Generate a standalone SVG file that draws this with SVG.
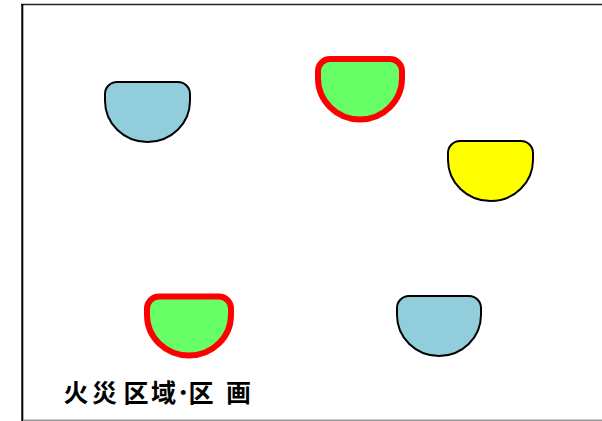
<svg xmlns="http://www.w3.org/2000/svg" width="602" height="421" viewBox="0 0 602 421">
<defs>
<style>
.plain{stroke:#000;stroke-width:2}
.hot{stroke:#ff0000;stroke-width:6}
.blue{fill:#92cddc}
.green{fill:#66ff66}
.yellow{fill:#ffff00}
.lbl{font-family:"Noto Sans CJK JP","Noto Sans CJK SC",sans-serif;font-size:25px;font-weight:bold;fill:#000}
</style>
</defs>
<rect width="602" height="421" fill="#fff"/>
<g id="frame">
<line x1="21" y1="4.5" x2="602" y2="4.5" stroke="#222" stroke-width="1.6"/>
<line x1="22.3" y1="4" x2="22.3" y2="421" stroke="#000" stroke-width="2"/>
<line x1="23" y1="420.3" x2="602" y2="420.3" stroke="#999" stroke-width="1.4"/>
</g>
<g id="n1"><path class="plain blue" d="M105,94 A12,12 0 0 1 117,82 H178 A12,12 0 0 1 190,94 V101 A42.5,41 0 0 1 105,101 Z"/></g>
<g id="n2"><path class="hot green" d="M318,71 A12,12 0 0 1 330,59 H390 A12,12 0 0 1 402,71 V78 A42,41.5 0 0 1 318,78 Z"/></g>
<g id="n3"><path class="plain yellow" d="M448,153 A12,12 0 0 1 460,141 H521 A12,12 0 0 1 533,153 V160 A42.5,41 0 0 1 448,160 Z"/></g>
<g id="n4"><path class="hot green" d="M147,308.5 A12,12 0 0 1 159,296.5 H219 A12,12 0 0 1 231,308.5 V315 A42,40.5 0 0 1 147,315 Z"/></g>
<g id="n5"><path class="plain blue" d="M397,308 A12,12 0 0 1 409,296 H469 A12,12 0 0 1 481,308 V315 A42,41 0 0 1 397,315 Z"/></g>
<g id="connectors"></g>
<text class="lbl" x="63.5 92 123.5 151 177 188.5 226" y="402">火災区域･区画</text>
</svg>
